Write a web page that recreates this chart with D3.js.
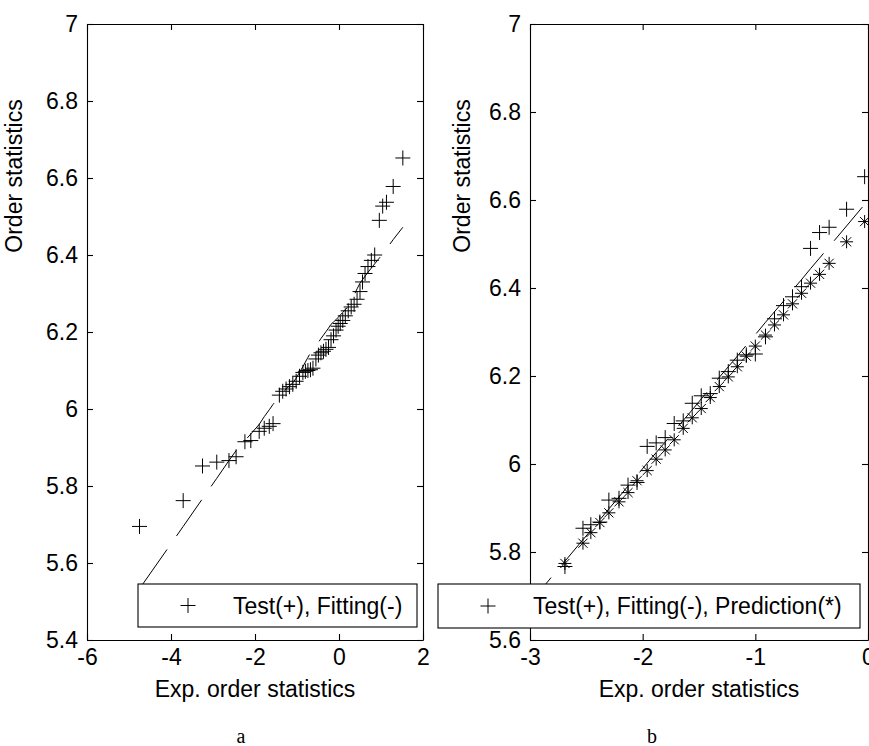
<!DOCTYPE html>
<html>
<head>
<meta charset="utf-8">
<script src="https://cdn.jsdelivr.net/npm/d3@7"></script>
<style>
  body { margin: 0; background: #fff; }
  svg text { font-family: "Liberation Sans", Arial, Helvetica, sans-serif; fill: #000; }
</style>
</head>
<body>
<div class="chart"></div>
<script>
// panel a : exp. order statistics, test data and fitted curve
var xA = [-4.75, -3.71, -3.25, -2.91, -2.62, -2.45, -2.24, -2.10, -1.90, -1.78, -1.66, -1.57, -1.42, -1.34, -1.26, -1.18, -1.10, -1.02, -0.94, -0.86,
    -0.80, -0.74, -0.68, -0.62, -0.55, -0.49, -0.43, -0.37, -0.31, -0.25, -0.19, -0.13, -0.07, -0.02, 0.03, 0.09, 0.15, 0.22, 0.29, 0.36,
    0.43, 0.50, 0.56, 0.62, 0.69, 0.77, 0.85, 0.96, 1.04, 1.13, 1.29, 1.52];
var testA = [5.695, 5.762, 5.852, 5.862, 5.866, 5.876, 5.915, 5.918, 5.942, 5.950, 5.955, 5.962, 6.036, 6.046, 6.052, 6.058, 6.064, 6.072, 6.085, 6.095,
    6.098, 6.100, 6.102, 6.106, 6.130, 6.140, 6.146, 6.150, 6.155, 6.160, 6.180, 6.190, 6.205, 6.215, 6.222, 6.230, 6.242, 6.255, 6.265, 6.272,
    6.285, 6.305, 6.330, 6.352, 6.370, 6.386, 6.400, 6.490, 6.527, 6.537, 6.578, 6.652];
var fitA = [5.533, 5.695, 5.767, 5.820, 5.866, 5.892, 5.918, 5.935, 5.960, 5.980, 5.998, 6.012, 6.032, 6.042, 6.052, 6.060, 6.068, 6.080, 6.095, 6.110,
    6.122, 6.134, 6.146, 6.155, 6.164, 6.173, 6.183, 6.192, 6.201, 6.210, 6.220, 6.226, 6.232, 6.238, 6.244, 6.251, 6.258, 6.266, 6.280, 6.296,
    6.312, 6.327, 6.336, 6.345, 6.355, 6.366, 6.377, 6.392, 6.403, 6.416, 6.440, 6.472];

// panel b : test, fitting and prediction
var xB = [-2.95, -2.69, -2.53, -2.46, -2.38, -2.30, -2.21, -2.13, -2.05, -1.96, -1.88, -1.80, -1.72, -1.64, -1.56, -1.48, -1.40, -1.32, -1.24, -1.16,
    -1.08, -1.00, -0.91, -0.83, -0.75, -0.67, -0.59, -0.51, -0.43, -0.345, -0.19, -0.03];
var testB = [5.700, 5.767, 5.854, 5.862, 5.868, 5.918, 5.922, 5.952, 5.958, 6.040, 6.048, 6.060, 6.092, 6.098, 6.138, 6.155, 6.160, 6.195, 6.210, 6.236,
    6.248, 6.250, 6.289, 6.330, 6.360, 6.380, 6.403, 6.490, 6.526, 6.538, 6.579, 6.653];
var predB = [5.705, 5.774, 5.820, 5.844, 5.867, 5.889, 5.914, 5.935, 5.962, 5.985, 6.011, 6.032, 6.055, 6.081, 6.105, 6.126, 6.151, 6.176, 6.198, 6.221,
    6.245, 6.268, 6.293, 6.316, 6.339, 6.364, 6.388, 6.411, 6.431, 6.456, 6.505, 6.551];
var fitB = [5.700, 5.779, 5.828, 5.849, 5.873, 5.898, 5.925, 5.950, 5.974, 6.002, 6.026, 6.050, 6.075, 6.099, 6.123, 6.148, 6.172, 6.197, 6.221, 6.245,
    6.270, 6.294, 6.322, 6.346, 6.370, 6.395, 6.419, 6.444, 6.468, 6.494, 6.541, 6.590];

// ticks and texts
var ticksAx = [-6, -4, -2, 0, 2];
var ticksAy = [5.4, 5.6, 5.8, 6, 6.2, 6.4, 6.6, 6.8, 7];
var ticksBx = [-3, -2, -1, 0];
var ticksBy = [5.6, 5.8, 6, 6.2, 6.4, 6.6, 6.8, 7];
var xLabel = "Exp. order statistics";
var yLabel = "Order statistics";
var legendA = "Test(+), Fitting(-)";
var legendB = "Test(+), Fitting(-), Prediction(*)";
var captions = ["a", "b"];

var W = 869, H = 746;
var fontSize = 23;

var svg = d3.select(".chart")
    .append("svg")
    .attr("width", W)
    .attr("height", H);

var plusPath = "M-7.5,0H7.5M0,-7.5V7.5";
var starPath = "M-6.5,0H6.5M0,-6.5V6.5M-4.6,-4.6L4.6,4.6M-4.6,4.6L4.6,-4.6";

// plain hyphen minus like the original figure
var tickFmt = function (d) { return String(d) };

function panel(p) {
    var x = d3.scaleLinear().domain(p.xDomain).range([p.left, p.right]);
    var y = d3.scaleLinear().domain(p.yDomain).range([p.bottom, p.top]);
    var g = svg.append("g");

    // four sided box with inward ticks
    var axes = [
        { ax: d3.axisBottom(x).tickValues(p.xTicks), t: "translate(0," + p.bottom + ")", lab: true },
        { ax: d3.axisTop(x).tickValues(p.xTicks), t: "translate(0," + p.top + ")", lab: false },
        { ax: d3.axisLeft(y).tickValues(p.yTicks), t: "translate(" + p.left + ",0)", lab: true },
        { ax: d3.axisRight(y).tickValues(p.yTicks), t: "translate(" + p.right + ",0)", lab: false }
    ];
    axes.forEach(function (a) {
        a.ax.tickSizeInner(-6).tickSizeOuter(0).tickPadding(a.lab ? 9 : 0)
            .tickFormat(a.lab ? tickFmt : "");
        var ag = g.append("g")
            .attr("transform", a.t)
            .call(a.ax)
            .attr("font-size", fontSize)
            .attr("font-family", null);
        ag.selectAll("path, line").attr("stroke", "#000").attr("stroke-width", 1.1);
    });
    g.selectAll(".tick text").attr("fill", "#000");

    // fitted curve, dashed
    var line = d3.line()
        .x(function (d) { return x(d[0]) })
        .y(function (d) { return y(d[1]) });
    g.append("path")
        .datum(p.xs.map(function (v, i) { return [v, p.fit[i]] }))
        .attr("d", line)
        .attr("fill", "none")
        .attr("stroke", "#000")
        .attr("stroke-width", 1)
        .attr("stroke-dasharray", "44,16.5")
        .attr("stroke-dashoffset", p.dashOffset);

    // prediction (*)
    if (p.pred) {
        g.selectAll(".pred")
            .data(p.xs.map(function (v, i) { return [v, p.pred[i]] }))
            .join("path")
            .attr("class", "pred")
            .attr("transform", function (d) { return "translate(" + x(d[0]) + "," + y(d[1]) + ")" })
            .attr("d", starPath)
            .attr("stroke", "#000")
            .attr("stroke-width", 1)
            .attr("fill", "none");
    }

    // test (+)
    g.selectAll(".test")
        .data(p.xs.map(function (v, i) { return [v, p.test[i]] }))
        .join("path")
        .attr("class", "test")
        .attr("transform", function (d) { return "translate(" + x(d[0]) + "," + y(d[1]) + ")" })
        .attr("d", plusPath)
        .attr("stroke", "#000")
        .attr("stroke-width", 1)
        .attr("fill", "none");

    // axis titles
    g.append("text")
        .attr("x", (p.left + p.right) / 2)
        .attr("y", 697)
        .attr("text-anchor", "middle")
        .attr("font-size", fontSize)
        .text(xLabel);
    g.append("text")
        .attr("transform", "translate(" + p.yLabelX + ",176) rotate(-90)")
        .attr("text-anchor", "middle")
        .attr("font-size", fontSize)
        .text(yLabel);

    // legend box
    var lg = g.append("g");
    lg.append("rect")
        .attr("x", p.legend[0]).attr("y", p.legend[1])
        .attr("width", p.legend[2]).attr("height", p.legend[3])
        .attr("fill", "#fff")
        .attr("stroke", "#000")
        .attr("stroke-width", 1.1);
    lg.append("path")
        .attr("transform", "translate(" + (p.legend[0] + 50) + "," + (p.legend[1] + p.legend[3] / 2) + ")")
        .attr("d", plusPath)
        .attr("stroke", "#000")
        .attr("fill", "none");
    lg.append("text")
        .attr("x", p.legend[0] + 95)
        .attr("y", p.legend[1] + p.legend[3] / 2)
        .attr("dy", "0.36em")
        .attr("font-size", fontSize)
        .text(p.legendText);

    // caption below
    svg.append("text")
        .attr("x", p.captionX)
        .attr("y", 743)
        .attr("text-anchor", "middle")
        .style("font-family", "'Liberation Serif', 'Times New Roman', serif")
        .attr("font-size", 20)
        .text(p.caption);
}

panel({
    xDomain: [-6, 2], yDomain: [5.4, 7], xTicks: ticksAx, yTicks: ticksAy,
    left: 87, right: 423, top: 24, bottom: 640,
    xs: xA, test: testA, fit: fitA, pred: null, dashOffset: 56.5,
    yLabelX: 22, legend: [138, 584, 279, 43], legendText: legendA,
    caption: captions[0], captionX: 241
});

panel({
    xDomain: [-3, 0], yDomain: [5.6, 7], xTicks: ticksBx, yTicks: ticksBy,
    left: 530, right: 868, top: 24, bottom: 640,
    xs: xB, test: testB, fit: fitB, pred: predB, dashOffset: 20,
    yLabelX: 470, legend: [438, 584, 422, 44], legendText: legendB,
    caption: captions[1], captionX: 652
});
</script>
</body>
</html>
